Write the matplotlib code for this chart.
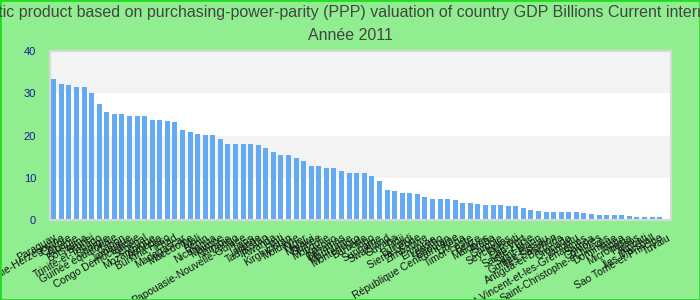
import matplotlib
matplotlib.use("Agg")
import matplotlib.pyplot as plt
import numpy as np

countries = [
    "Paraguay", "Bosnie-Herzégovine", "Chypre", "Albanie", "Botswana", "Brunei",
    "Trinité-et-Tobago", "Géorgie", "Guinée équatoriale", "Gabon", "Jamaïque",
    "Congo Démocratique", "Sénégal", "Mozambique", "Arménie", "Burkina Faso",
    "Tchad", "Madagascar", "Macédoine", "Mali", "Bénin", "Nicaragua", "Maurice",
    "Namibie", "Congo", "Papouasie-Nouvelle-Guinée", "Laos", "Islande",
    "Tadjikistan", "Rwanda", "Haïti", "Kirghizistan", "Moldavie", "Niger",
    "Malawi", "Guinée", "Mongolie", "Kosovo", "Bahamas", "Mauritanie",
    "Monténégro", "Barbade", "Togo", "Suriname", "Swaziland", "Guyana", "Fidji",
    "Burundi", "Sierra Leone", "Zimbabwe", "Érythrée", "Lesotho", "Bhoutan",
    "République Centrafricaine", "Libéria", "Timor-Leste", "Belize", "Maldives",
    "Aruba", "Gambie", "Seychelles", "Djibouti", "Cap-Vert", "Sainte-Lucie",
    "Saint-Marin", "Guinée-Bissau", "Îles Salomon", "Antigua-et-Barbuda",
    "Grenade", "Vanuatu", "Saint-Vincent-et-les-Grenadines", "Samoa", "Comores",
    "Saint-Christophe-et-Niévès", "Dominique", "Tonga", "Micronésie", "Palaos",
    "Kiribati", "Îles Marshall", "Sao Tomé-et-Principe", "Tuvalu",
]

values = [
    33.4, 32.2, 31.95, 31.5, 31.5, 30.06, 27.5, 25.6, 25.1, 25.1,
    24.6, 24.6, 24.6, 23.7, 23.7, 23.4, 23.2, 21.3, 20.8, 20.4,
    20.1, 20.1, 19.2, 18.0, 18.0, 18.0, 18.0, 17.75, 17.0, 16.1,
    15.4, 15.4, 14.7, 14.0, 12.8, 12.8, 12.3, 12.3, 11.6, 11.1,
    11.1, 11.1, 10.4, 9.2, 7.1, 6.9, 6.4, 6.4, 6.1, 5.4,
    5.0, 5.0, 5.0, 4.8, 4.1, 4.1, 3.8, 3.55, 3.55, 3.55,
    3.3, 3.3, 2.8, 2.4, 2.1, 1.9, 1.9, 1.9, 1.9, 1.9,
    1.65, 1.4, 1.2, 1.2, 1.2, 1.2, 0.95, 0.7, 0.7, 0.7,
    0.7, 0.25,
]

y_ticks = [0, 10, 20, 30, 40]

title_line1 = ("Gross domestic product based on purchasing-power-parity (PPP) valuation "
               "of country GDP Billions Current international dollar")
title_line2 = "Année 2011"

plt.rcParams['font.family'] = ['Liberation Sans', 'DejaVu Sans']

fig = plt.figure(figsize=(7, 3), dpi=100, facecolor='#90ee90')
fig.patches.append(plt.Rectangle((0, 0), 1, 1, transform=fig.transFigure,
                                 fill=False, edgecolor='#22dd22', linewidth=2))
ax = fig.add_axes([50 / 700, 80 / 300, 621 / 700, 169 / 300])
ax.set_facecolor('white')

x = np.arange(len(values))
ax.set_xlim(-0.5, len(values) - 0.5)
ax.set_ylim(0, 40)

# alternating bands
for i in range(len(y_ticks) - 1):
    if i % 2 == 1:
        ax.axhspan(y_ticks[i], y_ticks[i + 1], color='#f3f3f3', zorder=0, lw=0)

ax.bar(x, values, width=0.66, color='#63aaf2', zorder=2)

ax.set_yticks(y_ticks)
ax.set_yticklabels([str(t) for t in y_ticks], color='#1a1a9a', fontsize=8)
ax.tick_params(axis='y', length=0, pad=10)
ax.set_xticks(x)
ax.set_xticklabels(countries, rotation=30, ha='right', rotation_mode='anchor',
                   fontsize=7.5, color='#111111')
ax.tick_params(axis='x', length=0, pad=9)

for s in ax.spines.values():
    s.set_color('#d8d8d8')
    s.set_linewidth(1.5)

fig.text(0.5, 1 - 12 / 300, title_line1, ha='center', va='center',
         fontsize=11.5, color='#444444')
fig.text(0.5, 1 - 36 / 300, title_line2, ha='center', va='center',
         fontsize=11.5, color='#444444')

fig.savefig('out.png', dpi=100, facecolor=fig.get_facecolor())
